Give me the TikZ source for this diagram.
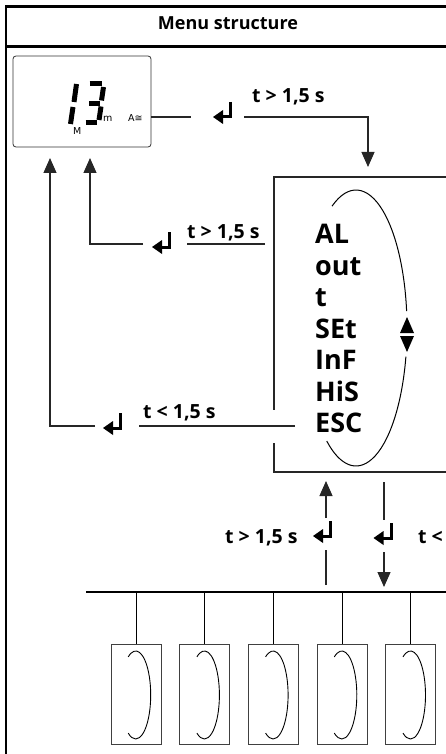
\documentclass[tikz,border=0pt]{standalone}
\usepackage{fontspec}
\setmainfont{Open Sans}
\newfontfamily\titlef{Open Sans}[Scale=1.8]
\newfontfamily\lblf{Open Sans}[Scale=1.95]
\newfontfamily\itemf{Open Sans}[Scale=2.7]
\newfontfamily\dejavu{DejaVu Sans}[Scale=0.95]
\usetikzlibrary{arrows.meta}
\tikzset{
  frame/.style={line width=2.5pt, draw=black},
  conn/.style={line width=1.2pt, draw=black!85},
  arr/.style={conn, -{Triangle[length=15pt,width=13pt]}},
  lbl/.style={font=\lblf\bfseries, inner sep=0pt, anchor=base west},
  item/.style={font=\itemf\bfseries, inner sep=0pt, anchor=base west},
  unit/.style={font=\dejavu, inner sep=0pt, anchor=base west},
  seg/.style={line width=5pt, draw=black},
  retnode/.style={minimum width=22pt, minimum height=24pt, inner sep=0pt},
  device/.style={line width=1pt, draw=black!75},
}
\newcommand\retsym[3]{%
  \node[retnode] (#1) at (#2,#3) {};
  \fill[black] ({#2-10},{#3+4}) -- ({#2},{#3-3}) -- ({#2},{#3+11}) -- cycle;
  \draw[line width=3pt, miter limit=10] ({#2+7.5},{#3-11}) -- ({#2+7.5},{#3+4}) -- ({#2-1},{#3+4});
}
\begin{document}
\begin{tikzpicture}[x=1pt,y=-1pt]
\useasboundingbox (0,0) rectangle (446,754);
\clip (0,0) rectangle (446,754);
% frame
\draw[frame] (6,754) -- (6,6.5) -- (450,6.5);
\draw[frame] (6,46.5) -- (450,46.5);
\node[font=\titlef\bfseries, anchor=base, inner sep=0pt] (title) at (228,30) {Menu structure};
% display
\node[draw=black!80, line width=0.8pt, rounded corners=3pt, minimum width=138pt, minimum height=91pt, inner sep=0pt] (disp) at (82,101.5) {};
\draw[seg] (76.5,84) -- (74,102);
\draw[seg] (73,107) -- (70.5,124);
\draw[seg] (89.5,84) -- (101.5,84);
\draw[seg] (103.5,87) -- (101.5,100.5);
\draw[seg] (89,103.5) -- (99.5,103.5);
\draw[seg] (101,106.5) -- (99,120);
\draw[seg] (85.5,122.5) -- (97,122.5);
\node[unit] (unitm) at (103,122) {m};
\node[unit] (unitA) at (128,122) {A≅};
\node[unit] (modeM) at (73,135) {M};
% menu box
\coordinate (mtl) at (274,177);
\coordinate (mbl) at (274,472);
\draw[conn] (460,177) -- (mtl) -- (274,410);
\draw[conn] (274,443) -- (mbl) -- (460,472);
\node[item] (AL) at (315,243) {AL};
\node[item] (out) at (315,275) {out};
\node[item] (t) at (315,306) {t};
\node[item] (SEt) at (315,338) {SEt};
\node[item] (InF) at (315,369) {InF};
\node[item] (HiS) at (315,401) {HiS};
\node[item] (ESC) at (315,432) {ESC};
\draw[line width=1pt] (356,328) ++(-118:51 and 138) arc[start angle=-118, end angle=-7, x radius=51, y radius=138];
\draw[line width=1pt] (356,328) ++(12:51 and 138) arc[start angle=12, end angle=125, x radius=51, y radius=138];
\fill (407,317) -- (414,333) -- (400,333) -- cycle;
\fill (407,352) -- (414,336) -- (400,336) -- cycle;
% top connector display -> menu
\retsym{r1}{223}{113}
\draw[conn] (disp.east |- 0,117) -- (191,117);
\draw[arr] (244,117) -- (368,117) -- (368,167);
\node[lbl] (l1) at (252,103) {t > 1,5 s};
% menu -> display (t > 1,5 s)
\retsym{r2}{162}{243}
\coordinate (e2) at (265,244);
\draw[conn] (e2) -- (187,244);
\draw[arr] (143,244) -- (90,244) -- (90,158);
\node[lbl] (l2) at (187,238) {t > 1,5 s};
% ESC -> display
\retsym{r3}{113}{424}
\draw[conn] ([xshift=-20pt]ESC.west |- 0,426) -- (139,426);
\draw[arr] (95,426) -- (50,426) -- (50,158);
\node[lbl] (l3) at (143,418) {t < 1,5 s};
% bottom connectors
\retsym{r4}{323}{532}
\draw[conn] (326,585) -- (326,550);
\draw[arr] (326,518) -- (326,481);
\node[lbl] (l4) at (225,543) {t > 1,5 s};
\retsym{r5}{383.5}{534}
\draw[conn] (384,482) -- (384,520);
\draw[arr] (384,552) -- (384,587);
\node[lbl] (l5) at (418,543) {t < 1,5 s};
% bus and devices
\draw[line width=2pt] (86,592) -- (450,592);
\foreach \i in {0,...,4} {
  \pgfmathsetmacro\cx{136+68.7*\i}
  \draw[line width=1pt] (\cx,592) -- (\cx,644);
  \node[device, minimum width=50pt, minimum height=100pt, inner sep=0pt] (dev\i) at (\cx,694) {};
  \draw[line width=0.9pt] ({\cx-0.3+15*cos(-120)},{695+44*sin(-120)}) arc[start angle=-120, end angle=120, x radius=15, y radius=44];
}
\end{tikzpicture}
\end{document}
